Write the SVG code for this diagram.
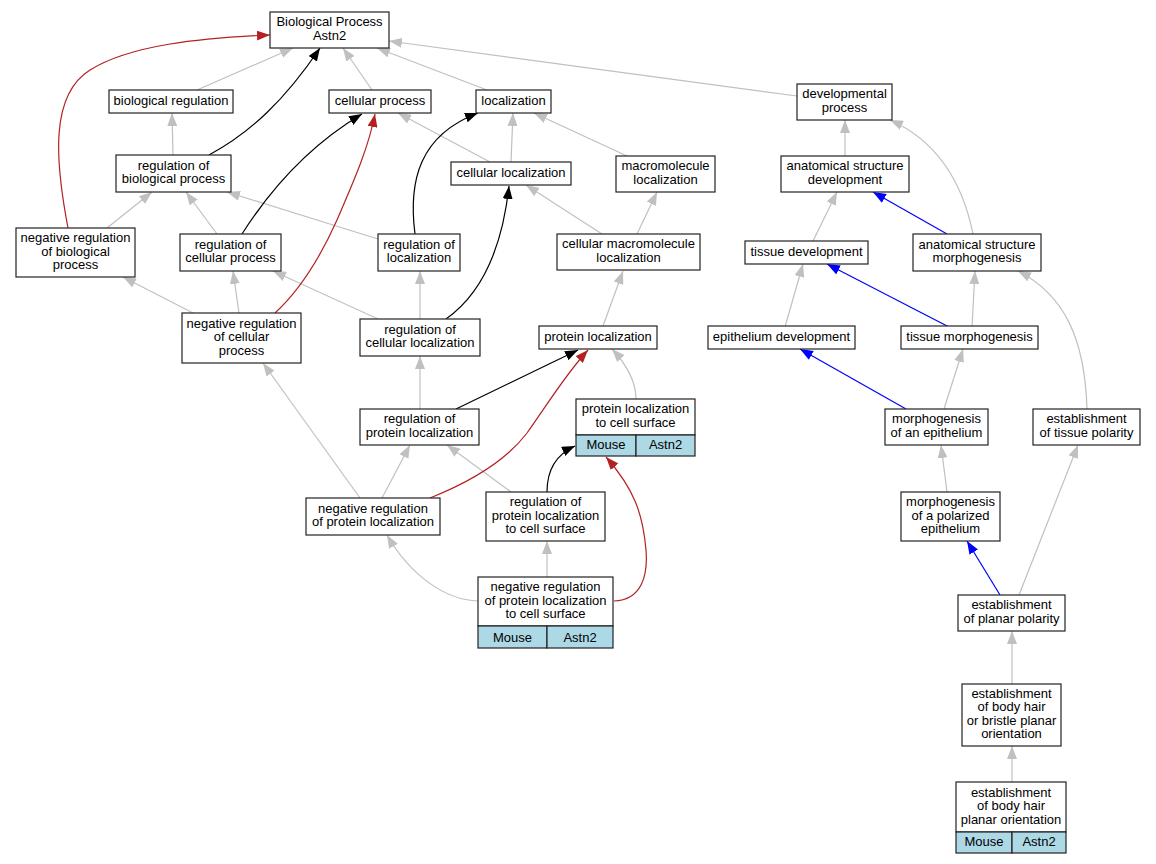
<svg xmlns="http://www.w3.org/2000/svg" width="1156" height="864" viewBox="0 0 1156 864">
<style>
.n rect{fill:#fff;stroke:#222;stroke-width:1.2}
.n rect.c{fill:#add8e6}
.n line{stroke:#222;stroke-width:1.2}
text{font-family:"Liberation Sans",Arial,sans-serif;font-size:13px;fill:#000;text-anchor:middle}
.e path{fill:none;stroke-width:1.2}
.g{stroke:#c0c0c0;marker-end:url(#ag)}
.k{stroke:#000;marker-end:url(#ak)}
.r{stroke:#b22222;marker-end:url(#ar)}
.b{stroke:#0000ff;marker-end:url(#ab)}
</style>
<defs>
<marker id="ag" markerUnits="userSpaceOnUse" markerWidth="13" markerHeight="10" refX="13" refY="5" orient="auto"><path d="M0,0 L13,5 L0,10 Z" fill="#c0c0c0"/></marker>
<marker id="ak" markerUnits="userSpaceOnUse" markerWidth="13" markerHeight="10" refX="13" refY="5" orient="auto"><path d="M0,0 L13,5 L0,10 Z" fill="#000"/></marker>
<marker id="ar" markerUnits="userSpaceOnUse" markerWidth="13" markerHeight="10" refX="13" refY="5" orient="auto"><path d="M0,0 L13,5 L0,10 Z" fill="#b22222"/></marker>
<marker id="ab" markerUnits="userSpaceOnUse" markerWidth="13" markerHeight="10" refX="13" refY="5" orient="auto"><path d="M0,0 L13,5 L0,10 Z" fill="#0000ff"/></marker>
</defs>
<rect width="1156" height="864" fill="#fff"/>
<g id="connectors" class="e">
<path class="g" d="M197,90 L293,48"/>
<path class="g" d="M372,90 L343,48"/>
<path class="g" d="M487,90 L377,48"/>
<path class="g" d="M797,96 L389,41"/>
<path class="g" d="M173,155 L172,113"/>
<path class="g" d="M107,228 L152,192"/>
<path class="g" d="M217,234 L186,192"/>
<path class="g" d="M378,239 L227,192"/>
<path class="g" d="M490,162 L398,113"/>
<path class="g" d="M511,162 L513,113"/>
<path class="g" d="M627,156 L534,113"/>
<path class="g" d="M602,234 L526,185"/>
<path class="g" d="M637,234 L657,192"/>
<path class="g" d="M420,319 L420,271"/>
<path class="g" d="M378,319 L273,271"/>
<path class="g" d="M193,313 L123,277"/>
<path class="g" d="M239,313 L233,271"/>
<path class="g" d="M603,326 L623,271"/>
<path class="g" d="M420,409 L420,356"/>
<path class="g" d="M636,399 C636,380 625,363 612,349"/>
<path class="g" d="M382,498 L410,445"/>
<path class="g" d="M360,498 L263,363"/>
<path class="g" d="M511,492 L447,445"/>
<path class="g" d="M478,601 C445,600 410,575 387,535"/>
<path class="g" d="M547,577 L547,541"/>
<path class="g" d="M845,156 L845,120"/>
<path class="g" d="M973,234 C962,180 935,140 890,120"/>
<path class="g" d="M813,241 L837,192"/>
<path class="g" d="M785,327 L803,264"/>
<path class="g" d="M972,327 L975,271"/>
<path class="g" d="M944,409 L963,349"/>
<path class="g" d="M1087,409 C1085,340 1065,295 1018,271"/>
<path class="g" d="M947,492 L941,445"/>
<path class="g" d="M1019,595 L1078,445"/>
<path class="g" d="M1012,684 L1012,631"/>
<path class="g" d="M1012,782 L1012,746"/>
<path class="k" d="M209,155 C250,133 285,100 320,48"/>
<path class="k" d="M242,234 C270,190 310,145 362,114"/>
<path class="k" d="M415,234 C408,180 420,135 478,113"/>
<path class="k" d="M446,319 C480,295 502,250 509,186"/>
<path class="k" d="M456,409 L578,350"/>
<path class="k" d="M547,492 C547,472 555,455 575,446"/>
<path class="r" d="M68,228 C55,160 50,95 90,70 C130,45 200,38 270,35"/>
<path class="r" d="M275,313 C300,290 320,258 337,220 C352,185 368,150 375,114"/>
<path class="r" d="M430,498 C470,482 505,462 527,433 C545,408 565,375 588,350"/>
<path class="r" d="M614,601 C642,600 648,575 646,550 C643,515 635,490 606,457"/>
<path class="b" d="M947,234 L873,192"/>
<path class="b" d="M949,327 L827,264"/>
<path class="b" d="M906,409 L800,349"/>
<path class="b" d="M1000,595 L967,541"/>
</g>
<g id="n_bp" class="n"><rect x="270" y="12" width="119" height="36"/><text x="329.5" y="26.25">Biological Process</text><text x="329.5" y="39.75">Astn2</text></g>
<g id="n_bioreg" class="n"><rect x="109" y="90" width="124" height="23"/><text x="171" y="104.5">biological regulation</text></g>
<g id="n_cellproc" class="n"><rect x="329" y="90" width="102" height="23"/><text x="380" y="104.5">cellular process</text></g>
<g id="n_loc" class="n"><rect x="476" y="90" width="75" height="23"/><text x="513.5" y="104.5">localization</text></g>
<g id="n_dev" class="n"><rect x="797" y="84" width="95" height="36"/><text x="844.5" y="98.25">developmental</text><text x="844.5" y="111.75">process</text></g>
<g id="n_regbio" class="n"><rect x="116" y="155" width="115" height="37"/><text x="173.5" y="169.75">regulation of</text><text x="173.5" y="183.25">biological process</text></g>
<g id="n_cellloc" class="n"><rect x="451" y="162" width="120" height="23"/><text x="511" y="176.5">cellular localization</text></g>
<g id="n_macroloc" class="n"><rect x="616" y="156" width="99" height="36"/><text x="665.5" y="170.25">macromolecule</text><text x="665.5" y="183.75">localization</text></g>
<g id="n_asdev" class="n"><rect x="781" y="156" width="128" height="36"/><text x="845" y="170.25">anatomical structure</text><text x="845" y="183.75">development</text></g>
<g id="n_negregbio" class="n"><rect x="16" y="228" width="119" height="49"/><text x="75.5" y="242">negative regulation</text><text x="75.5" y="255.5">of biological</text><text x="75.5" y="269">process</text></g>
<g id="n_regcell" class="n"><rect x="180" y="234" width="101" height="37"/><text x="230.5" y="248.75">regulation of</text><text x="230.5" y="262.25">cellular process</text></g>
<g id="n_regloc" class="n"><rect x="378" y="234" width="82" height="37"/><text x="419" y="248.75">regulation of</text><text x="419" y="262.25">localization</text></g>
<g id="n_cmacroloc" class="n"><rect x="557" y="234" width="143" height="36"/><text x="628.5" y="248.25">cellular macromolecule</text><text x="628.5" y="261.75">localization</text></g>
<g id="n_tissuedev" class="n"><rect x="745" y="241" width="123" height="23"/><text x="806.5" y="255.5">tissue development</text></g>
<g id="n_asmorph" class="n"><rect x="913" y="234" width="128" height="37"/><text x="977" y="248.75">anatomical structure</text><text x="977" y="262.25">morphogenesis</text></g>
<g id="n_negregcell" class="n"><rect x="182" y="313" width="119" height="50"/><text x="241.5" y="327.5">negative regulation</text><text x="241.5" y="341">of cellular</text><text x="241.5" y="354.5">process</text></g>
<g id="n_regcellloc" class="n"><rect x="360" y="319" width="120" height="37"/><text x="420" y="333.75">regulation of</text><text x="420" y="347.25">cellular localization</text></g>
<g id="n_protloc" class="n"><rect x="539" y="326" width="118" height="23"/><text x="598" y="340.5">protein localization</text></g>
<g id="n_epidev" class="n"><rect x="708" y="326" width="147" height="23"/><text x="781.5" y="340.5">epithelium development</text></g>
<g id="n_tissmorph" class="n"><rect x="901" y="326" width="137" height="23"/><text x="969.5" y="340.5">tissue morphogenesis</text></g>
<g id="n_regprotloc" class="n"><rect x="360" y="409" width="119" height="36"/><text x="419.5" y="423.25">regulation of</text><text x="419.5" y="436.75">protein localization</text></g>
<g id="n_plcs" class="n"><rect x="576" y="399" width="119" height="36"/><rect class="c" x="576" y="435" width="60" height="21"/><rect class="c" x="636" y="435" width="59" height="21"/><text x="635.5" y="413.25">protein localization</text><text x="635.5" y="426.75">to cell surface</text><text x="606" y="449">Mouse</text><text x="665.5" y="449">Astn2</text></g>
<g id="n_morphepi" class="n"><rect x="885" y="409" width="103" height="36"/><text x="936.5" y="423.25">morphogenesis</text><text x="936.5" y="436.75">of an epithelium</text></g>
<g id="n_esttp" class="n"><rect x="1033" y="409" width="107" height="36"/><text x="1086.5" y="423.25">establishment</text><text x="1086.5" y="436.75">of tissue polarity</text></g>
<g id="n_negregpl" class="n"><rect x="306" y="498" width="134" height="37"/><text x="373" y="512.75">negative regulation</text><text x="373" y="526.25">of protein localization</text></g>
<g id="n_regplcs" class="n"><rect x="486" y="492" width="119" height="49"/><text x="545.5" y="506">regulation of</text><text x="545.5" y="519.5">protein localization</text><text x="545.5" y="533">to cell surface</text></g>
<g id="n_morphpol" class="n"><rect x="901" y="492" width="99" height="49"/><text x="950.5" y="506">morphogenesis</text><text x="950.5" y="519.5">of a polarized</text><text x="950.5" y="533">epithelium</text></g>
<g id="n_negregplcs" class="n"><rect x="478" y="577" width="135" height="49"/><rect class="c" x="478" y="626" width="69" height="22"/><rect class="c" x="547" y="626" width="66" height="22"/><text x="545.5" y="591">negative regulation</text><text x="545.5" y="604.5">of protein localization</text><text x="545.5" y="618">to cell surface</text><text x="512.5" y="641.5">Mouse</text><text x="580" y="641.5">Astn2</text></g>
<g id="n_estpp" class="n"><rect x="958" y="595" width="107" height="36"/><text x="1011.5" y="609.25">establishment</text><text x="1011.5" y="622.75">of planar polarity</text></g>
<g id="n_estbhb" class="n"><rect x="962" y="684" width="99" height="62"/><text x="1011.5" y="697.75">establishment</text><text x="1011.5" y="711.25">of body hair</text><text x="1011.5" y="724.75">or bristle planar</text><text x="1011.5" y="738.25">orientation</text></g>
<g id="n_estbhpo" class="n"><rect x="956" y="782" width="110" height="50"/><rect class="c" x="956" y="832" width="56" height="21"/><rect class="c" x="1012" y="832" width="54" height="21"/><text x="1011" y="796.5">establishment</text><text x="1011" y="810">of body hair</text><text x="1011" y="823.5">planar orientation</text><text x="984" y="846">Mouse</text><text x="1039" y="846">Astn2</text></g>
</svg>
